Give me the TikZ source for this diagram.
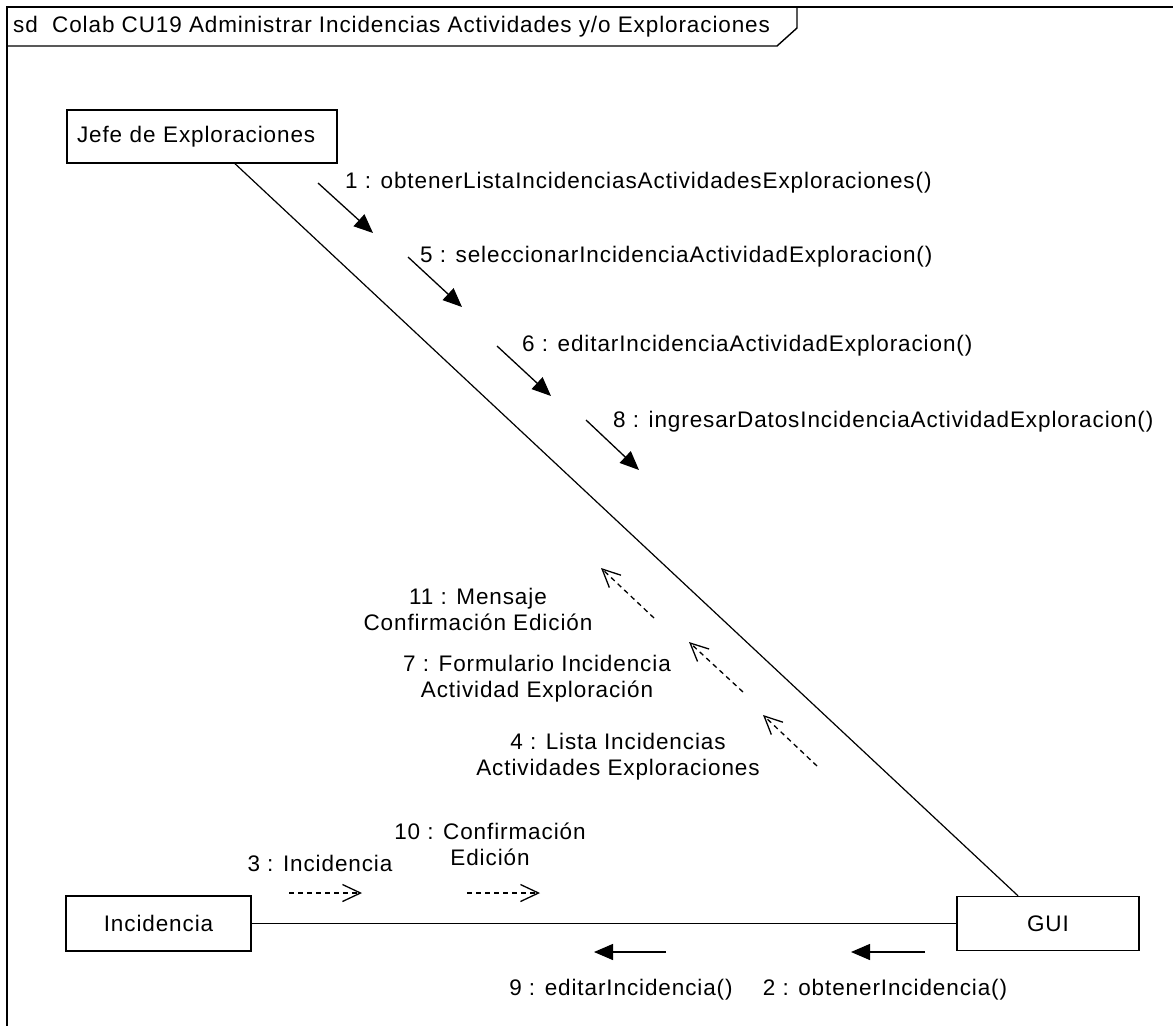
\documentclass[tikz,border=0pt]{standalone}
\usepackage{fontspec}
\setmainfont{Liberation Sans}[LetterSpace=4]
\usetikzlibrary{arrows.meta}
\begin{document}
\begin{tikzpicture}[x=1pt,y=-1pt,
  every node/.style={font=\fontsize{22.5}{26}\selectfont, inner sep=0pt},
  obj/.style={draw, line width=1.4pt, fill=white},
  link/.style={line width=1.2pt},
  msg/.style={line width=1.3pt, -{Triangle[length=19pt,width=16pt]}},
  reply/.style={line width=1.3pt, dash pattern=on 5pt off 4pt, -{Straight Barb[length=18pt,width=17pt,line width=1.3pt]}},
  lbl/.style={anchor=west},
  lbl2/.style={align=center}]
\useasboundingbox (0,0) rectangle (1173,1026);
% frame
\draw[line width=1.6pt] (1173,7) -- (7,7) -- (7,1026);
\draw[line width=1.4pt] (7,46) -- (777,46) -- (797,28) -- (797,7);
\node[anchor=west] (title) at (13,27) {sd\ \ Colab CU19 Administrar Incidencias Actividades y/o Exploraciones};
% objects
\node[obj, minimum width=270pt, minimum height=53pt, text width=250pt, inner xsep=10pt, align=left] (jefe) at (202,136.5) {Jefe de Exploraciones};
\node[obj, minimum width=185pt, minimum height=55pt] (inc) at (158.5,923.5) {Incidencia};
\node[obj, minimum width=182pt, minimum height=54pt] (gui) at (1048,923.5) {GUI};
% links
\draw[link] ([xshift=33pt]jefe.south) -- ([xshift=-30pt]gui.north);
\draw[link] (inc.east) -- (gui.west);
% messages Jefe -> GUI
\draw[msg] (318,183) -- (373,233);
\node[lbl] (m1) at (345,183) {1 : obtenerListaIncidenciasActividadesExploraciones()};
\draw[msg] (408,257) -- (462,307);
\node[lbl] (m5) at (420,257) {5 : seleccionarIncidenciaActividadExploracion()};
\draw[msg] (497,346) -- (551,396);
\node[lbl] (m6) at (522,346) {6 : editarIncidenciaActividadExploracion()};
\draw[msg] (586,420) -- (639,470);
\node[lbl] (m8) at (613,422) {8 : ingresarDatosIncidenciaActividadExploracion()};
% replies GUI -> Jefe
\draw[reply] (654,618) -- (601,568);
\node[lbl2] (m11) at (478,609) {11 : Mensaje\\Confirmación Edición};
\draw[reply] (743,692) -- (689,642);
\node[lbl2] (m7) at (537,679) {7 : Formulario Incidencia\\Actividad Exploración};
\draw[reply] (817,766) -- (763,715);
\node[lbl2] (m4) at (618,757) {4 : Lista Incidencias\\Actividades Exploraciones};
% replies Incidencia -> GUI
\draw[reply] (289,893) -- (362,893);
\node (m3) at (320,863) {3 : Incidencia};
\draw[reply] (467,893) -- (540,893);
\node[lbl2] (m10) at (490,844) {10 : Confirmación\\Edición};
% messages GUI -> Incidencia
\draw[msg] (666,952) -- (594,952);
\node (m9) at (621,990) {9 : editarIncidencia()};
\draw[msg] (925,952) -- (851,952);
\node (m2) at (885,990) {2 : obtenerIncidencia()};
\end{tikzpicture}
\end{document}
